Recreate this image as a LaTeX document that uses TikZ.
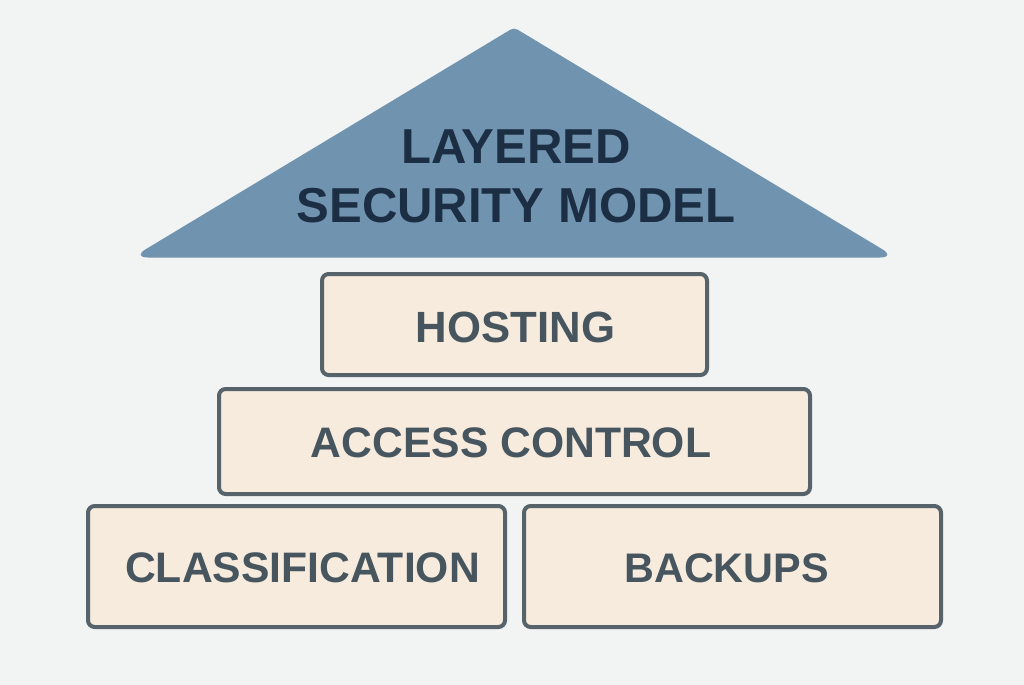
\documentclass[tikz,border=0pt]{standalone}
\usepackage{fontspec}
\setmainfont{Liberation Sans}
\definecolor{bgc}{HTML}{F2F3F3}
\definecolor{roofc}{HTML}{7093AF}
\definecolor{roofink}{HTML}{1C2E44}
\definecolor{boxfill}{HTML}{F6EBDD}
\definecolor{boxline}{HTML}{56636A}
\definecolor{boxink}{HTML}{47555F}
\tikzset{
  layerbox/.style={draw=boxline,fill=boxfill,line width=3pt,rounded corners=5pt},
  layerlabel/.style={text=boxink,font=\bfseries\fontsize{32}{38}\selectfont,inner sep=0pt,anchor=base},
  rooflabel/.style={text=roofink,font=\bfseries\fontsize{36.8}{45}\selectfont,inner sep=0pt,anchor=base}
}
\begin{document}
\begin{tikzpicture}[x=0.75pt,y=-0.75pt]
\useasboundingbox (0,0) rectangle (1024,685);
\fill[bgc] (0,0) rectangle (1024,685);
\fill[roofc] (514,257.5) [rounded corners=12pt] -- (896,257.5) [rounded corners=3pt] -- (514,27.5) [rounded corners=12pt] -- (132,257.5) [sharp corners] -- cycle;
\draw[layerbox] (322,274) rectangle (707,375);
\draw[layerbox] (219,389) rectangle (810,494);
\draw[layerbox] (88,506) rectangle (505,627);
\draw[layerbox] (524,506) rectangle (941,627);
\node[rooflabel] (roofa) at (516,163) {LAYERED};
\node[rooflabel] (roofb) at (516,222) {SECURITY MODEL};
\node[layerlabel,font=\bfseries\fontsize{32.8}{38}\selectfont] (host) at (515.5,342) {HOSTING};
\node[layerlabel] (access) at (511,457) {ACCESS CONTROL};
\node[layerlabel] (classif) at (302.5,582) {CLASSIFICATION};
\node[layerlabel,font=\bfseries\fontsize{31}{38}\selectfont] (back) at (726.5,582) {BACKUPS};
\end{tikzpicture}
\end{document}
